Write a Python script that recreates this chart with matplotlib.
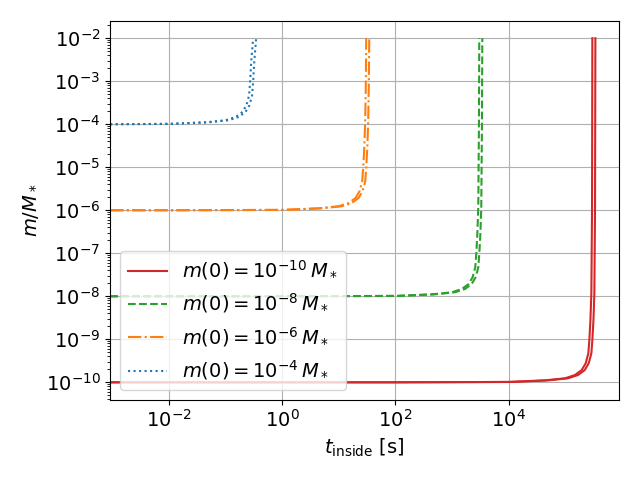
import matplotlib
matplotlib.use("Agg")
import matplotlib.pyplot as plt

plt.rcParams['font.size'] = 14

# values, one pair of curves per initial mass
m0_exp = [-10, -8, -6, -4]
colors = ['tab:red', 'tab:green', 'tab:orange', 'tab:blue']
styles = ['-', '--', '-.', ':']

# m(0) = 1e-10
t_red_a = [9e-4, 1e2, 1e4, 4.4e4, 1.0e5, 1.5e5, 1.97e5, 2.32e5, 2.58e5, 2.69e5, 2.81e5, 2.92e5, 3.0e5, 3.04e5]
t_red_b = [9e-4, 1.13e2, 1.13e4, 5.0e4, 1.13e5, 1.7e5, 2.23e5, 2.62e5, 2.92e5, 3.04e5, 3.18e5, 3.3e5, 3.39e5, 3.44e5]
m_red = [1e-10, 1e-10, 1.02e-10, 1.11e-10, 1.24e-10, 1.48e-10, 1.93e-10, 2.77e-10, 4.7e-10, 9.6e-10, 2.8e-9, 1.2e-8, 1e-6, 1e-2]

# m(0) = 1e-8
t_green_a = [9e-4, 1e0, 1e2, 4.4e2, 1.0e3, 1.5e3, 1.97e3, 2.32e3, 2.58e3, 2.69e3, 2.81e3, 2.92e3, 3.0e3, 3.04e3]
t_green_b = [9e-4, 1.13e0, 1.13e2, 5.0e2, 1.13e3, 1.7e3, 2.23e3, 2.62e3, 2.92e3, 3.04e3, 3.18e3, 3.3e3, 3.39e3, 3.44e3]
m_green = [1e-8, 1e-8, 1.02e-8, 1.11e-8, 1.24e-8, 1.48e-8, 1.93e-8, 2.77e-8, 4.7e-8, 9.6e-8, 2.8e-7, 1.2e-6, 1e-4, 1e-2]

# m(0) = 1e-6
t_orange_a = [9e-4, 1e-2, 1e0, 4.4, 10.0, 15.0, 19.7, 23.2, 25.8, 26.9, 28.1, 29.2, 30.0, 30.4]
t_orange_b = [9e-4, 1.13e-2, 1.13, 5.0, 11.3, 17.0, 22.3, 26.2, 29.2, 30.4, 31.8, 33.0, 33.9, 34.4]
m_orange = [1e-6, 1e-6, 1.02e-6, 1.11e-6, 1.24e-6, 1.48e-6, 1.93e-6, 2.77e-6, 4.7e-6, 9.6e-6, 2.8e-5, 1.2e-4, 1e-3, 1e-2]

# m(0) = 1e-4
t_blue_a = [9e-4, 1e-2, 4.4e-2, 0.100, 0.150, 0.197, 0.232, 0.258, 0.269, 0.281, 0.304]
t_blue_b = [9e-4, 1.13e-2, 5.0e-2, 0.113, 0.170, 0.223, 0.262, 0.292, 0.304, 0.318, 0.344]
m_blue = [1e-4, 1.02e-4, 1.11e-4, 1.24e-4, 1.48e-4, 1.93e-4, 2.77e-4, 4.7e-4, 9.6e-4, 2.8e-3, 1e-2]

curves = [
    (t_red_a, t_red_b, m_red),
    (t_green_a, t_green_b, m_green),
    (t_orange_a, t_orange_b, m_orange),
    (t_blue_a, t_blue_b, m_blue),
]

fig, ax = plt.subplots(figsize=(6.4, 4.8), dpi=100)

for (ta, tb, m), e, c, ls in zip(curves, m0_exp, colors, styles):
    ax.plot(ta, m, color=c, ls=ls, label=r'$m(0) = 10^{%d}\,M_*$' % e)
    ax.plot(tb, m, color=c, ls=ls)

ax.set_xscale('log')
ax.set_yscale('log')
ax.set_xlim(9e-4, 9e5)
ax.set_xlabel(r'$t_{\rm inside}$ [s]')
ax.set_ylabel(r'$m/M_*$')
ax.grid()
ax.legend(loc='lower left')
fig.tight_layout()
fig.savefig('out.png')
